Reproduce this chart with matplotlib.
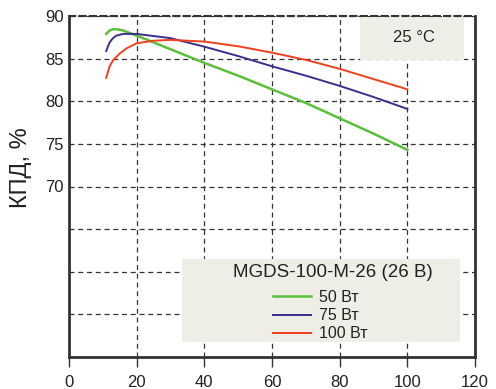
import matplotlib
matplotlib.use("Agg")
import matplotlib.pyplot as plt
from matplotlib.patches import Rectangle

plt.rcParams['font.family'] = ['Liberation Sans', 'DejaVu Sans']

# Data
x_50 = [11, 12, 13, 14, 16, 20, 30, 40, 50, 60, 70, 80, 90, 100]
y_50 = [87.9, 88.3, 88.45, 88.45, 88.3, 87.7, 86.1, 84.5, 83.0, 81.4, 79.8, 78.0, 76.2, 74.3]
x_75 = [11, 12, 13, 14, 16, 20, 30, 40, 50, 60, 70, 80, 90, 100]
y_75 = [85.9, 86.9, 87.4, 87.7, 87.9, 87.9, 87.4, 86.4, 85.3, 84.1, 83.0, 81.8, 80.5, 79.1]
x_100 = [11, 12, 13, 15, 17, 20, 25, 30, 40, 50, 60, 70, 80, 90, 100]
y_100 = [82.75, 84.1, 84.8, 85.6, 86.2, 86.8, 87.1, 87.2, 87.0, 86.45, 85.7, 84.85, 83.8, 82.6, 81.4]

series_labels = ["50 Вт", "75 Вт", "100 Вт"]
series_colors = ["#5bbf3c", "#3a2f8c", "#f2401e"]
x_ticks = [0, 20, 40, 60, 80, 100, 120]
y_ticks = [50, 55, 60, 65, 70, 75, 80, 85, 90]
y_ticklabels = ["", "", "", "", "70", "75", "80", "85", "90"]
ylabel = "КПД, %"
temp_text = "25 °C"
legend_title = "MGDS-100-M-26 (26 В)"

W, H = 496, 389
fig = plt.figure(figsize=(W / 100, H / 100), dpi=100)
ax = fig.add_axes([69 / W, 1 - 357 / H, (475 - 69) / W, (357 - 16) / H])

ax.set_xlim(0, 120)
ax.set_ylim(50, 90)
ax.set_axisbelow(True)
ax.grid(True, color="#333333", linestyle=(0, (4, 3)), linewidth=0.9)

lines = []
for xs, ys, c, lab, lw in zip([x_50, x_75, x_100], [y_50, y_75, y_100],
                              series_colors, series_labels, [1.8, 1.4, 1.4]):
    ln, = ax.plot(xs, ys, color=c, linewidth=lw, label=lab, zorder=3)
    lines.append(ln)

ax.set_xticks(x_ticks)
ax.set_yticks(y_ticks)
ax.set_yticklabels(y_ticklabels)
ax.set_yticks([55, 60], minor=True)
ax.tick_params(axis="both", which="major", labelsize=12, labelcolor="#222222", colors="#333333")
ax.tick_params(axis="y", which="major", length=0, pad=4)
ax.tick_params(axis="x", which="major", length=7, width=1, direction="out", pad=6)
ax.tick_params(axis="y", which="minor", length=9, width=1.5, direction="out", color="#333333")

for side in ["left", "right", "bottom"]:
    ax.spines[side].set_color("#333333")
    ax.spines[side].set_linewidth(2)
ax.spines["top"].set_color("#333333")
ax.spines["top"].set_linewidth(1.5)
ax.spines["top"].set_linestyle((0, (3, 2)))

fig.text(21 / W, 1 - 168 / H, ylabel, rotation=90, ha="center", va="center",
         fontsize=17, color="#222222")

box_color = "#eeeee6"
# Temperature box
ax.add_patch(Rectangle(((360 - 69) / (475 - 69), (357 - 60) / (357 - 16)),
                       (464 - 360) / (475 - 69), (60 - 18) / (357 - 16),
                       transform=ax.transAxes, facecolor=box_color, edgecolor="none", zorder=1))
fig.text(414 / W, 1 - 38 / H, temp_text, ha="center", va="center", fontsize=12, color="#222222")

# Legend box
ax.add_patch(Rectangle(((182 - 69) / (475 - 69), (357 - 342) / (357 - 16)),
                       (460 - 182) / (475 - 69), (342 - 259) / (357 - 16),
                       transform=ax.transAxes, facecolor=box_color, edgecolor="none", zorder=1))
fig.text(333 / W, 1 - 272.5 / H, legend_title, ha="center", va="center",
         fontsize=13.5, color="#222222")
leg = ax.legend(handles=lines, labels=series_labels,
                loc="upper left", bbox_to_anchor=(273 / W, 1 - 290 / H),
                bbox_transform=fig.transFigure, frameon=False, fontsize=11.5,
                handlelength=2.4, handletextpad=0.45,
                labelspacing=0.2, borderpad=0.0, borderaxespad=0.0)
for t in leg.get_texts():
    t.set_color("#222222")

fig.savefig("out.png", dpi=100)
